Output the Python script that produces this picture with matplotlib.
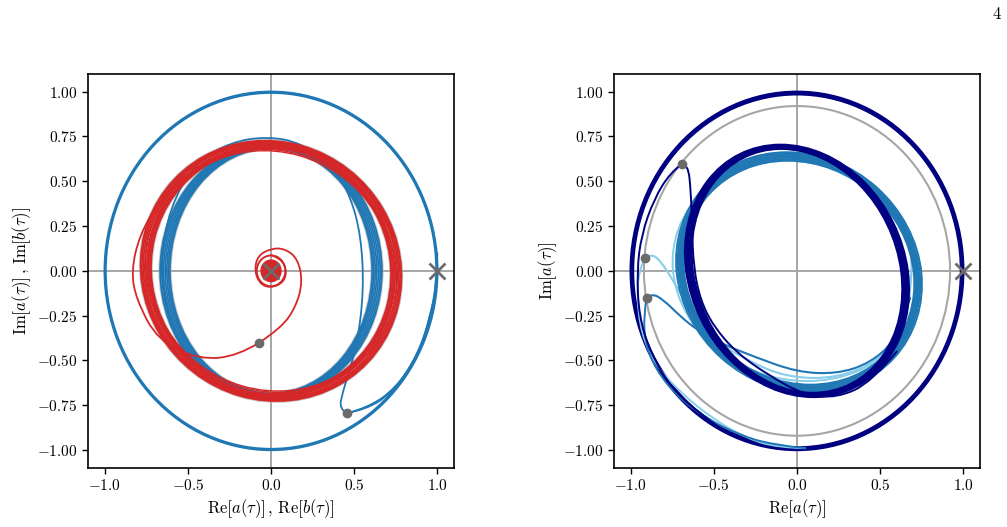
import matplotlib
matplotlib.use("Agg")
import matplotlib.pyplot as plt
from matplotlib.patches import Ellipse, PathPatch
from matplotlib.path import Path
from matplotlib.transforms import Affine2D

plt.rcParams['mathtext.fontset'] = 'cm'
plt.rcParams['font.family'] = ['DejaVu Serif']

# ---------------- data ----------------
x_ticks = [-1.0, -0.5, 0.0, 0.5, 1.0]
y_ticks = [1.00, 0.75, 0.50, 0.25, 0.00, -0.25, -0.50, -0.75, -1.00]

# Left panel: limit-cycle loops (half-width, half-height)
left_outer_a = [0.994, 1.0]
left_outer_b = [0.994, 1.0]
left_blue_band_a = [0.608, 0.617, 0.626, 0.636, 0.646, 0.656, 0.666]
left_blue_band_b = [0.684, 0.688, 0.693, 0.697, 0.702, 0.707, 0.712]
left_red_band_a = [0.724, 0.732, 0.740, 0.750, 0.762, 0.771, 0.780, 0.788]
left_red_band_b = [0.684, 0.689, 0.694, 0.70, 0.707, 0.712, 0.717, 0.722]
left_red_thin_a = [0.745, 0.76]
left_red_thin_b = [0.665, 0.672]
left_red_core_r = [0.06, 0.086]

# left transients
blue_up_x = [0.455, 0.41, 0.43, 0.478, 0.52, 0.558, 0.54, 0.478, 0.38, 0.18, -0.02, -0.24, -0.46, -0.61, -0.665, -0.63, -0.50]
blue_up_y = [-0.794, -0.77, -0.68, -0.534, -0.40, -0.10, 0.20, 0.414, 0.575, 0.715, 0.75, 0.72, 0.60, 0.35, 0.05, -0.25, -0.50]
blue_r1_x = [0.455, 0.57, 0.73, 0.87, 0.955, 0.995, 1.0]
blue_r1_y = [-0.794, -0.775, -0.68, -0.49, -0.27, -0.06, 0.10]
blue_r2_x = [0.455, 0.58, 0.75, 0.885, 0.96, 0.99]
blue_r2_y = [-0.794, -0.765, -0.655, -0.465, -0.25, -0.10]
red_tr_x = [-0.07, -0.20, -0.43, -0.68, -0.81, -0.84, -0.79, -0.68, -0.50, -0.22, 0.04, 0.375, 0.60, 0.73]
red_tr_y = [-0.40, -0.475, -0.495, -0.39, -0.16, 0.00, 0.20, 0.375, 0.555, 0.67, 0.69, 0.63, 0.45, 0.20]
red_sp_x = [-0.07, 0.06, 0.15, 0.19, 0.16, 0.08, 0.0, -0.08, -0.10, -0.065, 0.0, 0.075, 0.095, 0.06, 0.0]
red_sp_y = [-0.40, -0.32, -0.20, -0.06, 0.07, 0.125, 0.125, 0.085, 0.0, -0.075, -0.095, -0.065, 0.0, 0.07, 0.088]
left_dots_x = [-0.07, 0.455]
left_dots_y = [-0.40, -0.794]
left_cross_x = [0.0, 1.0]
left_cross_y = [0.0, 0.0]

# Right panel
right_outer_r = [0.985, 0.993, 1.0]
right_gray_r = 0.92
navy_band_a = [0.625, 0.632, 0.639, 0.646, 0.653, 0.66, 0.667]
navy_band_b = [0.68, 0.684, 0.688, 0.692, 0.696, 0.70, 0.705]
navy_shear = -0.14
steel_band_a = [0.69, 0.697, 0.704, 0.711, 0.718, 0.725, 0.735]
steel_band_b = [0.625, 0.633, 0.641, 0.649, 0.657, 0.665, 0.672]
steel_shear = -0.11
light_loop_a = [0.745]
light_loop_b = [0.615]
light_shear = -0.1

navy_tr_x = [-0.694, -0.655, -0.637, -0.631, -0.622, -0.581, -0.501, -0.361, -0.16, 0.04, 0.24, 0.45, 0.60]
navy_tr_y = [0.595, 0.60, 0.433, 0.247, 0.024, -0.162, -0.31, -0.459, -0.589, -0.69, -0.71, -0.62, -0.45]
navy_bk_x = [-0.694, -0.76, -0.86, -0.935, -0.962, -0.95, -0.88, -0.75, -0.58, -0.45]
navy_bk_y = [0.595, 0.55, 0.40, 0.20, 0.0, -0.25, -0.46, -0.66, -0.80, -0.885]
light_tr_x = [-0.916, -0.88, -0.822, -0.722, -0.622, -0.501, -0.30, -0.06, 0.24, 0.50, 0.64, 0.70, 0.68]
light_tr_y = [0.071, 0.095, 0.061, -0.088, -0.255, -0.385, -0.50, -0.595, -0.60, -0.50, -0.31, -0.03, 0.20]
light_bk_x = [-0.916, -0.95, -0.962, -0.935, -0.855, -0.70, -0.50, -0.30, -0.12, 0.05]
light_bk_y = [0.071, 0.0, -0.15, -0.35, -0.52, -0.68, -0.83, -0.935, -0.985, -0.99]
steel_tr_x = [-0.904, -0.872, -0.802, -0.70, -0.601, -0.461, -0.261, 0.0, 0.24, 0.44, 0.60, 0.68]
steel_tr_y = [-0.151, -0.125, -0.162, -0.255, -0.329, -0.403, -0.478, -0.565, -0.575, -0.515, -0.38, -0.15]
steel_bk_x = [-0.904, -0.922, -0.912, -0.85, -0.72, -0.55, -0.35, -0.15, 0.05]
steel_bk_y = [-0.151, -0.25, -0.40, -0.55, -0.70, -0.82, -0.915, -0.97, -0.99]
right_dots_x = [-0.694, -0.916, -0.904]
right_dots_y = [0.595, 0.071, -0.151]
right_cross_x = [1.0]
right_cross_y = [0.0]

# ---------------- style ----------------
C_BLUE = '#1f77b4'
C_RED = '#d62728'
C_NAVY = '#000080'
C_LIGHT = '#87ceeb'
C_GRAY = '#a6a6a6'
C_MARK = '#6b6b6b'


def smooth(ax, xs, ys, color, lw=1.3, z=3):
    pts = list(zip(xs, ys))
    verts = [pts[0]]
    codes = [Path.MOVETO]
    n = len(pts)
    for i in range(1, n - 1):
        if i < n - 2:
            end = ((pts[i][0] + pts[i + 1][0]) / 2, (pts[i][1] + pts[i + 1][1]) / 2)
        else:
            end = pts[i + 1]
        verts += [pts[i], end]
        codes += [Path.CURVE3, Path.CURVE3]
    ax.add_patch(PathPatch(Path(verts, codes), fill=False, edgecolor=color, lw=lw, zorder=z,
                           capstyle='round', joinstyle='round'))


def loops(ax, ws, hs, color, lw=1.3, angle=0, shear=0.0, center=(0, 0), z=2, alpha=1.0):
    for w, h in zip(ws, hs):
        e = Ellipse((0, 0), 2 * w, 2 * h, angle=angle, fill=False,
                    edgecolor=color, lw=lw, zorder=z, alpha=alpha)
        tr = Affine2D([[1, shear, center[0]], [0, 1, center[1]], [0, 0, 1]])
        e.set_transform(tr + ax.transData)
        ax.add_patch(e)


def style_axes(ax):
    ax.set_xlim(-1.1, 1.1)
    ax.set_ylim(-1.1, 1.1)
    ax.set_xticks(x_ticks)
    ax.set_xticklabels([f'${v:.1f}$' for v in x_ticks])
    ax.set_yticks(y_ticks)
    ax.set_yticklabels([f'${v:.2f}$' for v in y_ticks])
    ax.tick_params(labelsize=11, length=4, width=1.0, direction='out', colors='black')
    for s in ax.spines.values():
        s.set_linewidth(1.2)
        s.set_color('black')
    ax.axhline(0, color=C_GRAY, lw=1.4, zorder=0.5)
    ax.axvline(0, color=C_GRAY, lw=1.4, zorder=0.5)


fig = plt.figure(figsize=(10.07, 5.27), dpi=100)
axL = fig.add_axes([0.0874, 0.112, 0.3635, 0.748])
axR = fig.add_axes([0.6097, 0.112, 0.3635, 0.748])

# ---- left panel ----
style_axes(axL)
loops(axL, left_outer_a, left_outer_b, C_BLUE, lw=1.6)
loops(axL, [left_blue_band_a[0], left_blue_band_a[-1]], [left_blue_band_b[0], left_blue_band_b[-1]], C_GRAY, lw=2.6, z=1.5, alpha=0.6)
loops(axL, [left_red_band_a[0], left_red_band_a[-1]], [left_red_band_b[0], left_red_band_b[-1]], C_GRAY, lw=2.6, angle=-15, z=1.5, alpha=0.6)
loops(axL, left_blue_band_a, left_blue_band_b, C_BLUE, lw=1.3, z=2)
smooth(axL, blue_up_x, blue_up_y, C_BLUE, lw=1.3, z=2.2)
smooth(axL, blue_r1_x, blue_r1_y, C_BLUE, lw=1.2, z=2.2)
smooth(axL, blue_r2_x, blue_r2_y, C_BLUE, lw=1.2, z=2.2)
loops(axL, left_red_band_a, left_red_band_b, C_RED, lw=1.3, angle=-15, z=2.5)
loops(axL, left_red_thin_a, left_red_thin_b, C_RED, lw=1.0, angle=-15, z=2.5)
smooth(axL, red_tr_x, red_tr_y, C_RED, lw=1.3, z=2.6)
smooth(axL, red_sp_x, red_sp_y, C_RED, lw=1.3, z=2.6)
axL.add_patch(Ellipse((0, 0), 2 * left_red_core_r[0], 2 * left_red_core_r[0], facecolor=C_RED, edgecolor=C_RED, lw=1.0, zorder=2.7))
axL.add_patch(Ellipse((0, 0), 2 * left_red_core_r[1], 2 * left_red_core_r[1], fill=False, edgecolor=C_RED, lw=1.4, zorder=2.7))
axL.plot(left_dots_x, left_dots_y, 'o', color=C_MARK, ms=6, zorder=5)
axL.plot(left_cross_x, left_cross_y, 'x', color=C_MARK, ms=11, mew=2, zorder=5)
axL.set_xlabel(r'$\mathrm{Re}\left[a(\tau)\right]\,,\,\mathrm{Re}\left[b(\tau)\right]$', fontsize=12, labelpad=3)
axL.set_ylabel(r'$\mathrm{Im}\left[a(\tau)\right]\,,\,\mathrm{Im}\left[b(\tau)\right]$', fontsize=12, labelpad=3)

# ---- right panel ----
style_axes(axR)
axR.add_patch(Ellipse((0, 0), 2 * right_gray_r, 2 * right_gray_r, fill=False, edgecolor=C_GRAY, lw=1.5, zorder=1))
loops(axR, right_outer_r, right_outer_r, C_NAVY, lw=1.6)
smooth(axR, light_bk_x, light_bk_y, C_LIGHT, lw=1.4, z=2.1)
smooth(axR, steel_bk_x, steel_bk_y, C_BLUE, lw=1.4, z=2.1)
smooth(axR, navy_bk_x, navy_bk_y, C_NAVY, lw=1.4, z=2.1)
loops(axR, light_loop_a, light_loop_b, C_LIGHT, lw=1.4, shear=light_shear, z=2.2)
smooth(axR, light_tr_x, light_tr_y, C_LIGHT, lw=1.5, z=2.2)
loops(axR, steel_band_a, steel_band_b, C_BLUE, lw=1.4, shear=steel_shear, center=(0.012, -0.01), z=2.3)
smooth(axR, steel_tr_x, steel_tr_y, C_BLUE, lw=1.5, z=2.3)
loops(axR, navy_band_a, navy_band_b, C_NAVY, lw=1.3, shear=navy_shear, z=2.4)
smooth(axR, navy_tr_x, navy_tr_y, C_NAVY, lw=1.4, z=2.4)
axR.plot(right_dots_x, right_dots_y, 'o', color=C_MARK, ms=6, zorder=5)
axR.plot(right_cross_x, right_cross_y, 'x', color=C_MARK, ms=11, mew=2, zorder=5)
axR.set_xlabel(r'$\mathrm{Re}\left[a(\tau)\right]$', fontsize=12, labelpad=3)
axR.set_ylabel(r'$\mathrm{Im}\left[a(\tau)\right]$', fontsize=12, labelpad=3)

fig.text(0.990, 0.972, '$4$', fontsize=12, ha='center', va='center')

fig.savefig('out.png', dpi=100)
